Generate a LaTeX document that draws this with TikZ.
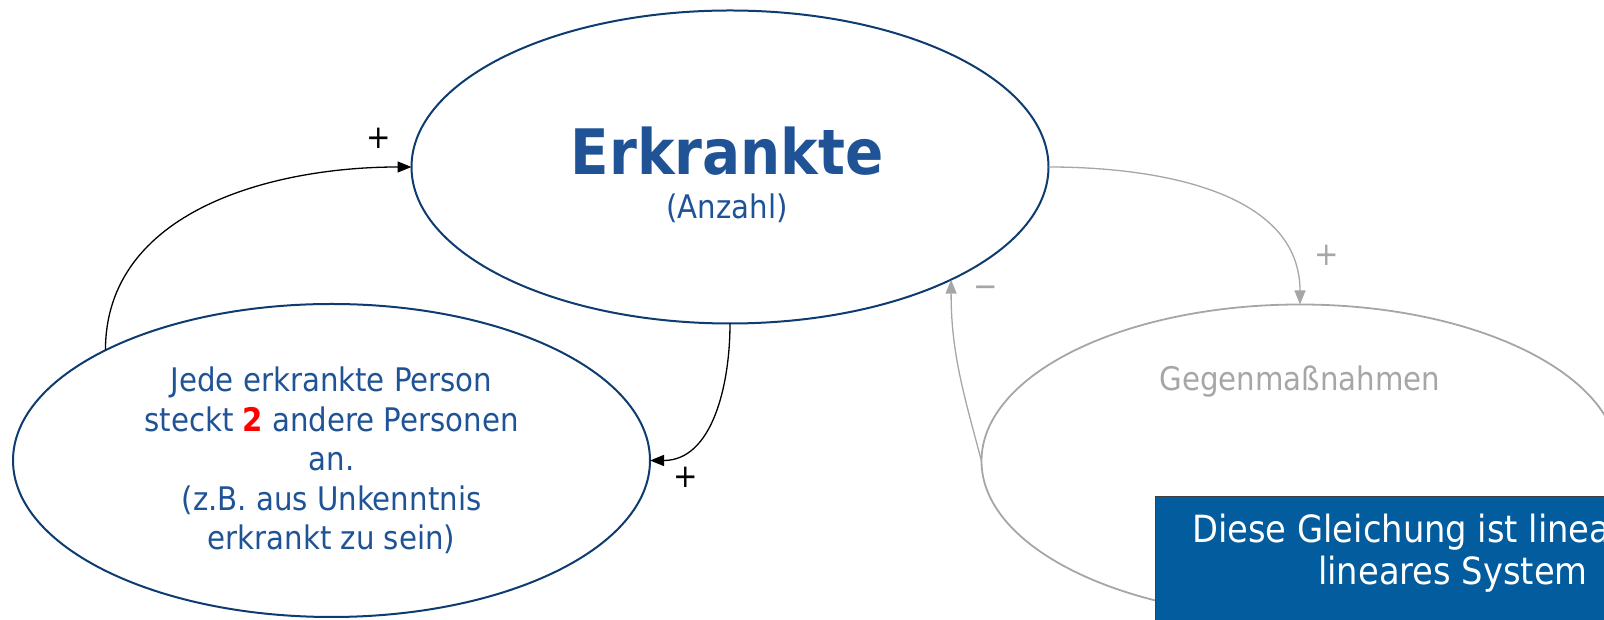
\documentclass[tikz,border=0pt]{standalone}
\usepackage{fontspec}
\setmainfont{DejaVu Sans Condensed}
\usepackage{xcolor}
\usepackage{tikz}
\usetikzlibrary{shapes.geometric, arrows.meta, positioning}
\definecolor{navyline}{HTML}{0E3B70}
\definecolor{factorblue}{HTML}{1F5396}
\definecolor{faintgray}{HTML}{A6A6A6}
\definecolor{noteblue}{HTML}{035C9D}
\newcommand{\bodysize}{\fontsize{32.5}{39.5}\selectfont}

\begin{document}
\begin{tikzpicture}[x=1pt, y=1pt,
  factor/.style={ellipse, draw=navyline, line width=2pt, minimum width=637pt,
                 minimum height=313pt, inner sep=0pt, outer sep=0pt,
                 align=center, text=factorblue, font=\bodysize},
  factortext/.style={anchor=base, inner sep=0pt, text=factorblue, font=\bodysize},
  faint/.style={draw=faintgray, text=faintgray, line width=1.8pt},
  link/.style={line width=1.3pt, -{Triangle[length=14pt, width=11pt]}},
  sign/.style={inner sep=0pt, font=\bodysize},
  notebox/.style={draw=black!75, line width=1pt, fill=noteblue, anchor=north west,
                  minimum width=600pt, minimum height=200pt},
]
\useasboundingbox (0,0) rectangle (1604,620);
\clip (0,0) rectangle (1604,620);

% factors
\node[factor] (cases) at (730,453) {};
\node[factortext, font=\fontsize{62.7}{70}\selectfont\bfseries] (casestitle) at (727,445.3) {Erkrankte};
\node[factortext] (casesunit) at (727,401) {(Anzahl)};

\node[factor] (spread) at (331.5,159.5) {Jede erkrankte Person\\steckt \textcolor{red}{\textbf{2}} andere Personen\\an.\\(z.B. aus Unkenntnis\\erkrankt zu sein)};

\node[factor, faint] (counter) at (1300,159) {};
\node[factortext, text=faintgray] (countertext) at (1300,229) {Gegenmaßnahmen};

% links
\draw[link] (spread.154) to[out=90, in=180] (cases.west);
\draw[link] (cases.south) to[out=-90, in=0] (spread.east);
\draw[link, draw=faintgray] (cases.east) to[out=0, in=90] (counter.north);
\draw[link, draw=faintgray] (counter.west) to[out=105, in=-90] (cases.-27);

\node[sign] (plusone) at (378.5,482) {+};
\node[sign] (plustwo) at (686,142.5) {+};
\node[sign, text=faintgray] (plusthree) at (1327,365) {+};
\node[sign, text=faintgray] (minusone) at (985.5,328.3) {−};

% note
\node[notebox] (note) at (1155,124) {};
\node[anchor=north west, inner sep=0pt, align=left, text=white,
      font=\fontsize{37.5}{42}\selectfont] (notetext) at (1192,106)
  {Diese Gleichung ist linear\\\hspace*{126pt}lineares System};
\end{tikzpicture}
\end{document}
